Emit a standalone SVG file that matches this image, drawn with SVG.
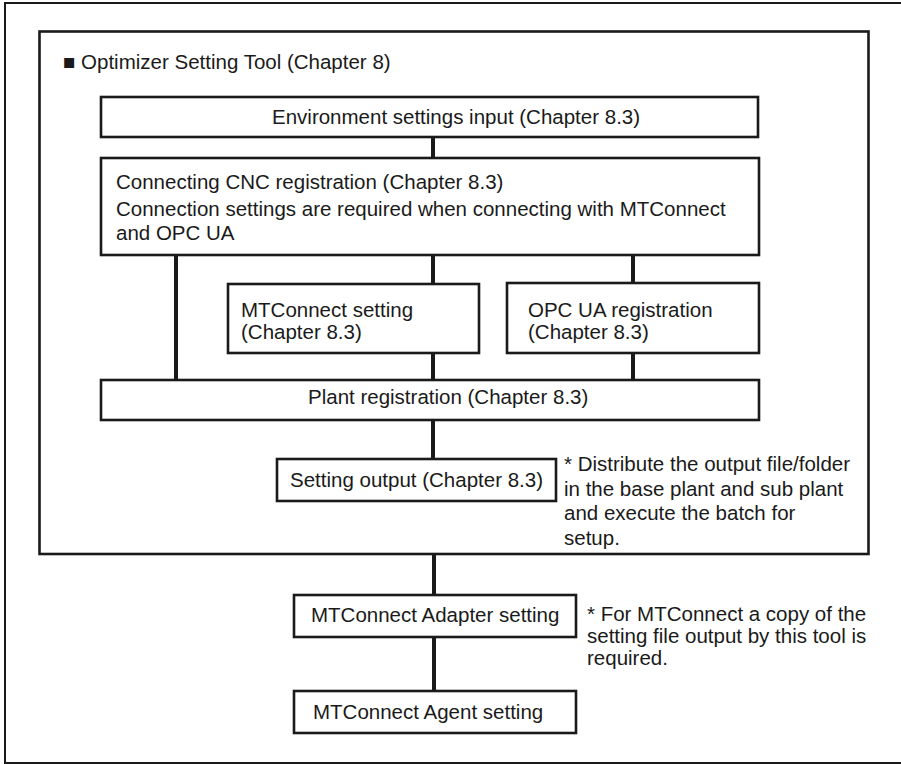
<svg xmlns="http://www.w3.org/2000/svg" width="901" height="764" viewBox="0 0 901 764">
<style>
  .box { fill: #ffffff; stroke: #1a1a1a; stroke-width: 2.6; }
  .frame { fill: none; stroke: #1a1a1a; }
  .conn { stroke: #1a1a1a; stroke-width: 4; fill: none; }
  text { font-family: "Liberation Sans", Arial, sans-serif; font-size: 20.5px; fill: #1a1a1a; }
</style>
<rect width="901" height="764" fill="#ffffff"/>
<g id="outer-frame">
  <path class="frame" stroke-width="2" d="M 905 3 H 5 V 763 H 905"/>
</g>
<g id="tool-frame">
  <rect class="frame" stroke-width="2.6" x="39.5" y="31.5" width="829" height="522.5"/>
  <text x="63" y="69">■ Optimizer Setting Tool (Chapter 8)</text>
</g>
<g id="connectors">
  <line class="conn" x1="433" y1="137" x2="433" y2="158"/>
  <line class="conn" x1="433" y1="255" x2="433" y2="284"/>
  <line class="conn" x1="633" y1="255" x2="633" y2="283"/>
  <line class="conn" x1="176" y1="255" x2="176" y2="380"/>
  <line class="conn" x1="433" y1="353" x2="433" y2="380"/>
  <line class="conn" x1="633" y1="353" x2="633" y2="380"/>
  <line class="conn" x1="433" y1="420" x2="433" y2="459"/>
  <line class="conn" x1="434" y1="554" x2="434" y2="595"/>
  <line class="conn" x1="434" y1="637" x2="434" y2="691"/>
</g>
<g id="env-settings">
  <rect class="box" x="101" y="97" width="657" height="40"/>
  <text x="272" y="124">Environment settings input (Chapter 8.3)</text>
</g>
<g id="cnc-registration">
  <rect class="box" x="101" y="158" width="658" height="97"/>
  <text x="116" y="189">Connecting CNC registration (Chapter 8.3)</text>
  <text x="116" y="216">Connection settings are required when connecting with MTConnect</text>
  <text x="116" y="240">and OPC UA</text>
</g>
<g id="mtconnect-setting">
  <rect class="box" x="228" y="284" width="251" height="69"/>
  <text x="241" y="317">MTConnect setting</text>
  <text x="241" y="339">(Chapter 8.3)</text>
</g>
<g id="opcua-registration">
  <rect class="box" x="507" y="283" width="252" height="70"/>
  <text x="528" y="317">OPC UA registration</text>
  <text x="528" y="339">(Chapter 8.3)</text>
</g>
<g id="plant-registration">
  <rect class="box" x="101" y="380" width="658" height="40"/>
  <text x="308" y="404">Plant registration (Chapter 8.3)</text>
</g>
<g id="setting-output">
  <rect class="box" x="277" y="459" width="279" height="42"/>
  <text x="290" y="487">Setting output (Chapter 8.3)</text>
</g>
<g id="note-distribute">
  <text x="564" y="471">* Distribute the output file/folder</text>
  <text x="564" y="495.5">in the base plant and sub plant</text>
  <text x="564" y="520">and execute the batch for</text>
  <text x="564" y="544.5">setup.</text>
</g>
<g id="adapter-setting">
  <rect class="box" x="294" y="595" width="282" height="42"/>
  <text x="311" y="622">MTConnect Adapter setting</text>
</g>
<g id="note-adapter">
  <text x="587" y="621">* For MTConnect a copy of the</text>
  <text x="587" y="643">setting file output by this tool is</text>
  <text x="587" y="665">required.</text>
</g>
<g id="agent-setting">
  <rect class="box" x="294" y="691" width="282" height="42"/>
  <text x="313" y="719">MTConnect Agent setting</text>
</g>
</svg>
